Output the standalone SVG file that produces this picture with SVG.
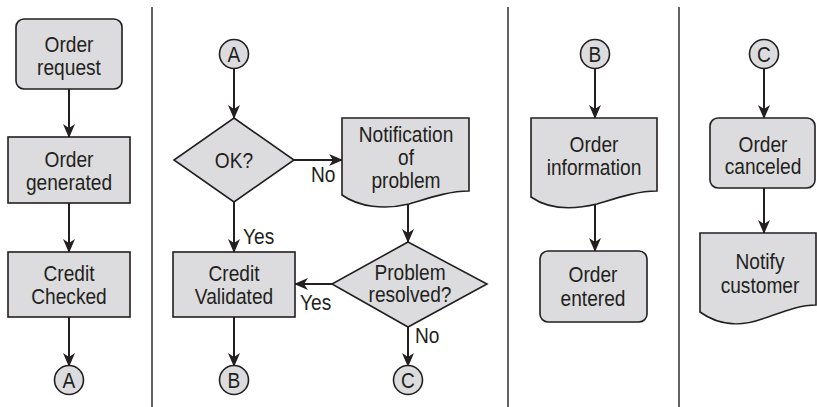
<svg xmlns="http://www.w3.org/2000/svg" width="817" height="407" viewBox="0 0 817 407">
<style>
.n{fill:#dcdcde;stroke:#231f20;stroke-width:1.6}
.t{font-family:"Liberation Sans",Arial,sans-serif;font-size:22px;fill:#231f20;text-anchor:middle}
.l{font-family:"Liberation Sans",Arial,sans-serif;font-size:22px;fill:#231f20}
.c{stroke:#231f20;stroke-width:2;fill:none}
.d{stroke:#231f20;stroke-width:1.4}
</style>
<defs>
<marker id="ah" markerUnits="userSpaceOnUse" viewBox="0 0 14 12" markerWidth="14" markerHeight="12" refX="13" refY="6" orient="auto">
<path d="M0,0 L14,6 L0,12 L4,6 z" fill="#231f20"/>
</marker>
</defs>
<g id="dividers">
<line class="d" x1="152" y1="7" x2="152" y2="407"/>
<line class="d" x1="508" y1="7" x2="508" y2="407"/>
<line class="d" x1="679" y1="7" x2="679" y2="407"/>
</g>
<g id="connectors">
<line class="c" x1="69" y1="89" x2="69" y2="137" marker-end="url(#ah)"/>
<line class="c" x1="69" y1="203" x2="69" y2="252" marker-end="url(#ah)"/>
<line class="c" x1="69" y1="317" x2="69" y2="366" marker-end="url(#ah)"/>
<line class="c" x1="234" y1="69" x2="234" y2="118" marker-end="url(#ah)"/>
<line class="c" x1="294" y1="160" x2="342" y2="160" marker-end="url(#ah)"/>
<line class="c" x1="234" y1="202" x2="234" y2="252" marker-end="url(#ah)"/>
<line class="c" x1="408" y1="204" x2="408" y2="242" marker-end="url(#ah)"/>
<line class="c" x1="332" y1="284" x2="295" y2="284" marker-end="url(#ah)"/>
<line class="c" x1="234" y1="317" x2="234" y2="366" marker-end="url(#ah)"/>
<line class="c" x1="408" y1="327" x2="408" y2="366" marker-end="url(#ah)"/>
<line class="c" x1="595" y1="69" x2="595" y2="118" marker-end="url(#ah)"/>
<line class="c" x1="595" y1="204" x2="595" y2="251" marker-end="url(#ah)"/>
<line class="c" x1="764" y1="69" x2="764" y2="118" marker-end="url(#ah)"/>
<line class="c" x1="764" y1="188" x2="764" y2="233" marker-end="url(#ah)"/>
<text class="l" transform="translate(311,182) scale(0.87,1)">No</text>
<text class="l" transform="translate(243,244) scale(0.87,1)">Yes</text>
<text class="l" transform="translate(300,310) scale(0.87,1)">Yes</text>
<text class="l" transform="translate(415,343) scale(0.87,1)">No</text>
</g>
<g id="order-request">
<rect class="n" x="16" y="19" width="106" height="70" rx="8"/>
<text class="t" transform="translate(69,52) scale(0.87,1)">Order</text>
<text class="t" transform="translate(69,75) scale(0.87,1)">request</text>
</g>
<g id="order-generated">
<rect class="n" x="8" y="137" width="122" height="66"/>
<text class="t" transform="translate(69,167) scale(0.87,1)">Order</text>
<text class="t" transform="translate(69,190) scale(0.87,1)">generated</text>
</g>
<g id="credit-checked">
<rect class="n" x="8" y="252" width="122" height="65"/>
<text class="t" transform="translate(69,281) scale(0.87,1)">Credit</text>
<text class="t" transform="translate(69,304) scale(0.87,1)">Checked</text>
</g>
<g id="conn-a-out">
<circle class="n" cx="69" cy="380" r="14.5"/>
<text class="t" transform="translate(69,388) scale(0.87,1)">A</text>
</g>
<g id="conn-a-in">
<circle class="n" cx="234" cy="54" r="14.5"/>
<text class="t" transform="translate(234,62) scale(0.87,1)">A</text>
</g>
<g id="ok">
<polygon class="n" points="234,118 294,160 234,202 174,160"/>
<text class="t" transform="translate(234,168) scale(0.87,1)">OK?</text>
</g>
<g id="notification">
<path class="n" d="M342,118 H469 V191 C449,191 429,198 409,204 C384,210 359,207 342,195 Z"/>
<text class="t" transform="translate(406,142) scale(0.87,1)">Notification</text>
<text class="t" transform="translate(406,165) scale(0.87,1)">of</text>
<text class="t" transform="translate(406,188) scale(0.87,1)">problem</text>
</g>
<g id="problem-resolved">
<polygon class="n" points="408,242 487,284 408,327 332,284"/>
<text class="t" transform="translate(410,280) scale(0.87,1)">Problem</text>
<text class="t" transform="translate(410,302) scale(0.87,1)">resolved?</text>
</g>
<g id="credit-validated">
<rect class="n" x="173" y="252" width="122" height="65"/>
<text class="t" transform="translate(234,281) scale(0.87,1)">Credit</text>
<text class="t" transform="translate(234,304) scale(0.87,1)">Validated</text>
</g>
<g id="conn-b-out">
<circle class="n" cx="234" cy="380" r="14.5"/>
<text class="t" transform="translate(234,388) scale(0.87,1)">B</text>
</g>
<g id="conn-c-out">
<circle class="n" cx="408" cy="380" r="14.5"/>
<text class="t" transform="translate(408,388) scale(0.87,1)">C</text>
</g>
<g id="conn-b-in">
<circle class="n" cx="595" cy="54" r="14.5"/>
<text class="t" transform="translate(595,62) scale(0.87,1)">B</text>
</g>
<g id="order-information">
<path class="n" d="M531,118 H657 V191 C637,191 617,198 597,204 C572,210 548,209 531,197 Z"/>
<text class="t" transform="translate(594,152) scale(0.87,1)">Order</text>
<text class="t" transform="translate(594,175) scale(0.87,1)">information</text>
</g>
<g id="order-entered">
<rect class="n" x="540" y="251" width="107" height="71" rx="8"/>
<text class="t" transform="translate(593,282) scale(0.87,1)">Order</text>
<text class="t" transform="translate(593,306) scale(0.87,1)">entered</text>
</g>
<g id="conn-c-in">
<circle class="n" cx="764" cy="54" r="14.5"/>
<text class="t" transform="translate(764,62) scale(0.87,1)">C</text>
</g>
<g id="order-canceled">
<rect class="n" x="710" y="118" width="105" height="70" rx="8"/>
<text class="t" transform="translate(763,152) scale(0.87,1)">Order</text>
<text class="t" transform="translate(763,174) scale(0.87,1)">canceled</text>
</g>
<g id="notify-customer">
<path class="n" d="M700,233 H816 V305 C798,305 780,313 762,319 C740,327 718,325 700,312 Z"/>
<text class="t" transform="translate(760,269) scale(0.87,1)">Notify</text>
<text class="t" transform="translate(760,293) scale(0.87,1)">customer</text>
</g>
</svg>
